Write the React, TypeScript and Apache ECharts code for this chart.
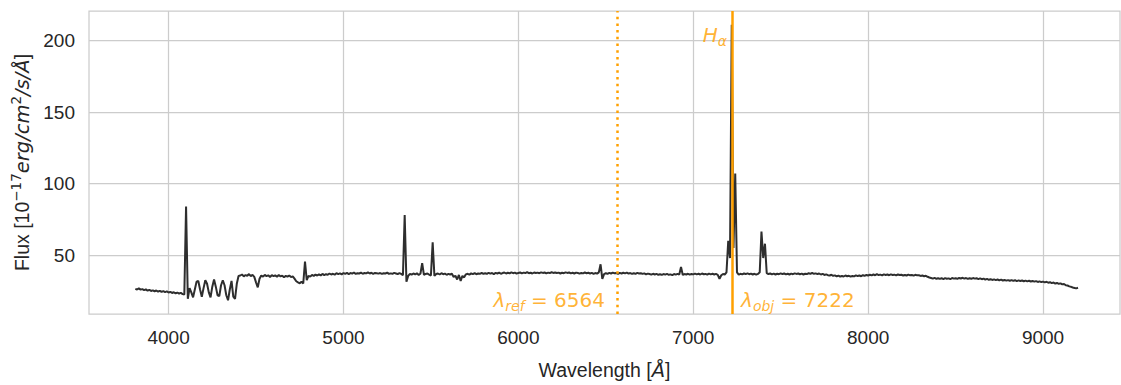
import { useEffect, useRef } from "react";
import * as echarts from "echarts";

// Spectrum sampled on a regular wavelength grid (Å)
const wavelengthStart = 3810;
const wavelengthStep = 10;

// Flux in 10^-17 erg/cm^2/s/Å, one row per 100 Å
const flux = [
  26.5, 26.0, 26.8, 25.9, 26.3, 25.6, 26.1, 25.2, 25.8, 25.0,
  25.4, 24.8, 25.3, 24.6, 25.1, 24.3, 24.9, 24.2, 24.7, 23.9,
  24.4, 23.6, 24.1, 23.3, 23.9, 23.1, 23.7, 22.8, 22.5, 84.0,
  19.5, 27.0, 24.0, 20.5, 26.0, 31.5, 32.0, 26.0, 21.0, 27.0,
  32.5, 30.0, 24.0, 20.5, 28.0, 33.0, 28.0, 22.0, 21.5, 29.0,
  32.5, 29.0, 22.0, 18.5, 26.0, 32.0, 21.0, 19.5, 30.0, 35.5,
  35.8, 36.5, 35.2, 36.1, 35.6, 36.8, 35.4, 36.2, 34.8, 31.0,
  27.5, 33.5, 35.8, 35.0, 36.2, 35.4, 35.9, 34.8, 36.0, 35.3,
  35.9, 34.9, 36.1, 35.2, 35.7, 34.6, 35.5, 35.0, 35.8, 34.7,
  35.2, 33.6, 31.8, 31.0, 30.4, 31.5, 30.2, 45.5, 32.5, 35.6,
  35.0, 36.2, 35.5, 36.4, 35.8, 36.6, 35.9, 36.9, 36.1, 36.7,
  36.3, 37.2, 36.5, 37.0, 36.4, 37.4, 36.8, 37.3, 36.6, 37.5,
  37.0, 37.6, 36.8, 37.5, 37.1, 37.9, 36.9, 37.4, 37.2, 37.8,
  37.0, 37.6, 37.3, 38.0, 37.2, 37.7, 37.0, 37.6, 37.4, 37.1,
  37.5, 36.9, 37.4, 37.2, 37.8, 36.9, 37.3, 37.0, 37.6, 37.2,
  36.8, 37.5, 36.9, 36.0, 78.0, 31.5, 35.5, 37.0, 36.4, 37.2,
  36.6, 37.3, 36.2, 37.0, 44.5, 36.2, 36.9, 37.2, 36.4, 35.8,
  59.0, 35.5, 36.8, 37.2, 36.5, 37.4, 36.7, 37.1, 36.3, 36.9,
  36.5, 37.0, 34.8, 35.6, 33.0, 36.2, 32.0, 35.5, 34.5, 36.6,
  37.0, 36.4, 37.3, 36.8, 37.5, 36.7, 37.2, 37.0, 37.6, 36.9,
  37.4, 36.9, 37.7, 37.1, 37.5, 36.8, 37.6, 37.2, 37.8, 37.0,
  37.5, 37.9, 37.2, 37.7, 37.3, 38.0, 37.4, 37.8, 37.1, 37.6,
  37.9, 37.3, 37.8, 37.5, 38.1, 37.4, 37.7, 37.2, 37.9, 37.5,
  37.8, 37.4, 38.0, 37.6, 37.9, 37.3, 37.8, 37.5, 38.1, 37.6,
  37.9, 37.5, 37.8, 37.2, 37.7, 37.4, 38.0, 37.6, 37.9, 37.3,
  37.7, 37.2, 37.8, 37.5, 37.1, 37.6, 37.3, 37.9, 37.4, 37.7,
  37.2, 37.6, 37.0, 37.5, 37.1, 38.0, 43.6, 33.4, 36.8, 37.4,
  37.0, 37.6, 37.2, 37.8, 37.3, 37.5, 36.9, 37.6, 37.2, 37.7,
  37.3, 37.8, 37.1, 37.5, 36.9, 37.4, 37.0, 37.6, 37.2, 37.4,
  36.9, 37.3, 36.6, 37.1, 36.8, 36.4, 37.0, 36.5, 36.9, 36.3,
  36.7, 36.2, 36.8, 36.4, 36.9, 36.3, 36.6, 36.1, 36.8, 36.4,
  36.9, 36.5, 41.8, 36.2, 36.8, 36.5, 37.0, 36.4, 36.9, 36.6,
  37.1, 36.6, 37.0, 36.5, 37.2, 36.7, 36.9, 36.4, 37.1, 36.6,
  37.0, 36.5, 36.9, 36.3, 33.4, 36.0, 36.8, 36.5, 38.0, 60.0,
  48.0, 211.0, 55.0, 107.0, 38.0, 36.4, 37.0, 36.6, 37.2, 36.8,
  37.3, 36.7, 37.1, 36.5, 37.0, 36.4, 36.9, 38.0, 66.5, 48.0,
  58.0, 37.5, 36.8, 37.2, 36.6, 37.1, 36.5, 37.0, 36.7, 37.3,
  36.8, 37.2, 36.6, 37.0, 36.5, 37.1, 36.7, 37.3, 36.9, 37.2,
  36.7, 37.1, 36.5, 37.0, 36.8, 37.4, 36.9, 37.6, 37.0, 37.3,
  36.8, 37.2, 36.5, 36.9, 36.2, 36.6, 36.0, 35.8, 36.3, 35.6,
  35.9, 35.2, 35.7, 35.0, 35.5, 35.1, 35.8, 35.3, 35.6, 35.0,
  35.5, 35.2, 35.9, 35.4, 35.8, 35.3, 36.0, 35.6, 36.2, 35.8,
  36.3, 35.9, 36.5, 36.0, 36.7, 36.1, 36.4, 35.9, 36.6, 36.2,
  36.5, 36.0, 36.6, 36.2, 36.4, 35.9, 36.5, 36.1, 36.3, 35.8,
  36.2, 35.8, 36.4, 35.9, 36.1, 35.7, 36.3, 35.9, 36.0, 35.5,
  35.8, 35.3, 35.6, 34.9, 34.4, 34.0, 33.6, 34.1, 33.5, 33.9,
  33.4, 33.9, 33.3, 34.0, 33.5, 33.8, 33.2, 34.1, 33.6, 33.9,
  33.5, 34.1, 33.7, 34.2, 33.6, 34.0, 33.4, 33.9, 33.5, 34.0,
  33.6, 33.9, 33.3, 33.8, 33.2, 33.6, 32.9, 33.4, 32.8, 33.2,
  32.7, 33.1, 32.6, 33.0, 32.4, 32.9, 32.3, 32.7, 32.2, 32.6,
  32.1, 32.6, 32.0, 32.5, 31.9, 32.4, 32.0, 32.3, 31.8, 32.2,
  31.7, 32.1, 31.6, 32.0, 31.5, 31.9, 31.3, 31.7, 31.2, 31.5,
  31.0, 31.4, 30.8, 31.1, 30.5, 30.9, 30.2, 30.6, 30.0, 30.3,
  29.6, 29.9, 29.0, 28.8, 28.2, 27.9, 27.4, 27.1, 26.8, 27.2,
];

const xTicks = [4000, 5000, 6000, 7000, 8000, 9000];
const yTicks = [50, 100, 150, 200];
const xRange = [3545, 9440];
const yRange = [8.9, 220.6];

// Reference and observed H-alpha wavelengths (Å)
const lambdaRef = 6564;
const lambdaObj = 7222;
const lambdaLabelFlux = 18.7;
const halphaLabelFlux = 203.6;

const orange = "#FFA000";
const ink = "#262626";
const gridGrey = "#cccccc";
const textFont = "Liberation Sans";
const mathFont = "DejaVu Sans";

const spectrum = flux.map((f, i) => [wavelengthStart + i * wavelengthStep, f]);

const annoRich = {
  m: { fontFamily: mathFont, fontStyle: "italic", fontSize: 20, color: orange, lineHeight: 26 },
  s: { fontFamily: mathFont, fontStyle: "italic", fontSize: 14, color: orange, lineHeight: 14, verticalAlign: "bottom" },
  t: { fontFamily: mathFont, fontSize: 20, color: orange, lineHeight: 26 },
};

const axisNameRich = {
  r: { fontFamily: textFont, fontSize: 19.5, color: ink, lineHeight: 26 },
  i: { fontFamily: mathFont, fontStyle: "italic", fontSize: 19.5, color: ink, lineHeight: 26 },
  sup: { fontFamily: mathFont, fontSize: 13.5, color: ink, lineHeight: 13, verticalAlign: "top" },
};

const plainNumber = (v: number) => String(v);

export default function App() {
  const ref = useRef<HTMLDivElement>(null);

  useEffect(() => {
    const chart = echarts.init(ref.current!, null, { renderer: "svg" });
    chart.setOption({
      animation: false,
      backgroundColor: "#ffffff",
      grid: {
        left: 89,
        right: 1,
        top: 11,
        bottom: 67,
        show: true,
        borderColor: gridGrey,
        borderWidth: 1.25,
      },
      xAxis: {
        type: "value",
        min: xRange[0],
        max: xRange[1],
        name: "{r|Wavelength [}{i|Å}{r|]}",
        nameLocation: "middle",
        nameGap: 43,
        nameTextStyle: { rich: axisNameRich },
        axisLine: { show: false },
        axisTick: { show: false, customValues: xTicks },
        axisLabel: {
          customValues: xTicks,
          formatter: plainNumber,
          fontFamily: textFont,
          fontSize: 19,
          color: ink,
          margin: 14,
        },
        splitLine: { show: true, lineStyle: { color: gridGrey, width: 1.25 } },
      },
      yAxis: {
        type: "value",
        min: yRange[0],
        max: yRange[1],
        name: "{r|Flux [10}{sup|−17}{i|erg/cm}{sup|2}{i|/s/Å}{r|]}",
        nameLocation: "middle",
        nameRotate: 90,
        nameGap: 54,
        nameTextStyle: { rich: axisNameRich },
        axisLine: { show: false },
        axisTick: { show: false, customValues: yTicks },
        axisLabel: {
          customValues: yTicks,
          formatter: plainNumber,
          fontFamily: textFont,
          fontSize: 19,
          color: ink,
          margin: 14,
        },
        splitLine: { show: true, lineStyle: { color: gridGrey, width: 1.25 } },
      },
      series: [
        {
          name: "markers",
          type: "line",
          data: [],
          z: 2,
          silent: true,
          markLine: {
            silent: true,
            symbol: "none",
            label: { show: false },
            data: [
              { xAxis: lambdaRef, lineStyle: { color: orange, width: 2.5, type: [2.5, 4.2] } },
              { xAxis: lambdaObj, lineStyle: { color: orange, width: 2.5, type: "solid" } },
            ],
          },
        },
        {
          name: "spectrum",
          type: "line",
          data: spectrum,
          z: 3,
          showSymbol: false,
          symbol: "none",
          lineStyle: { color: "#2e2e2e", width: 2 },
          silent: true,
        },
        {
          name: "labels",
          type: "scatter",
          symbolSize: 0,
          z: 4,
          silent: true,
          label: { show: true, position: "inside", verticalAlign: "middle", rich: annoRich },
          data: [
            {
              value: [lambdaRef, lambdaLabelFlux],
              label: { formatter: `{m|λ}{s|ref}{t| = ${lambdaRef}}`, align: "right", offset: [-12, 0] },
            },
            {
              value: [lambdaObj, lambdaLabelFlux],
              label: { formatter: `{m|λ}{s|obj}{t| = ${lambdaObj}}`, align: "left", offset: [9, 0] },
            },
            {
              value: [lambdaObj, halphaLabelFlux],
              label: { formatter: "{m|H}{s|α}", align: "right", offset: [-5, 0] },
            },
          ],
        },
      ],
    });
    return () => chart.dispose();
  }, []);

  return (
    <div
      ref={ref}
      style={{ position: "absolute", left: 0, top: 0, width: 1121, height: 385 }}
    />
  );
}
